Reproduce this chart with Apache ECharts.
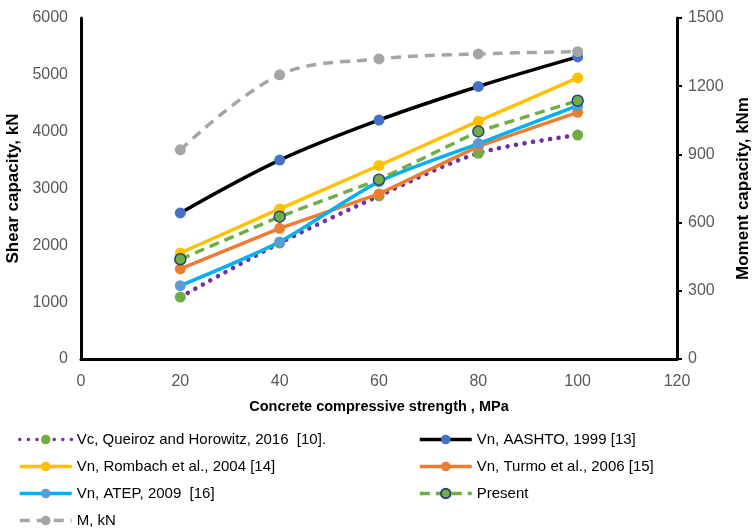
<!DOCTYPE html>
<html>
<head>
<meta charset="utf-8">
<script src="https://cdn.jsdelivr.net/npm/echarts@6/dist/echarts.min.js"></script>
<style>html,body{margin:0;padding:0;background:#fff}#c{width:753px;height:530px}</style>
</head>
<body>
<div id="c"></div>
<script>
const strength = [20, 40, 60, 80, 100];
const vcQueiroz = [1090, 2040, 2870, 3620, 3940];
const vnAashto = [2570, 3500, 4205, 4795, 5315];
const vnRombach = [1865, 2640, 3405, 4185, 4945];
const vnTurmo = [1585, 2300, 2905, 3740, 4340];
const vnAtep = [1290, 2060, 3120, 3790, 4460];
const present = [1755, 2505, 3155, 4005, 4545];
const momentM = [920, 1250, 1320, 1342, 1352];

const xTicks = [0, 20, 40, 60, 80, 100, 120];
const leftTicks = [0, 1000, 2000, 3000, 4000, 5000, 6000];
const rightTicks = [0, 300, 600, 900, 1200, 1500];

const names = {
  vc: 'Vc, Queiroz and Horowitz, 2016  [10].',
  aashto: 'Vn, AASHTO, 1999 [13]',
  rombach: 'Vn, Rombach et al., 2004 [14]',
  turmo: 'Vn, Turmo et al., 2006 [15]',
  atep: 'Vn, ATEP, 2009  [16]',
  present: 'Present',
  m: 'M, kN'
};

const pairs = (ys) => strength.map((x, i) => [x, ys[i]]);
const FONT = '"Liberation Sans", Arial, sans-serif';

function line(name, data, color, markerColor, opts) {
  opts = opts || {};
  return {
    name: name,
    type: 'line',
    data: pairs(data),
    yAxisIndex: opts.yAxisIndex || 0,
    smooth: opts.smooth || false,
    symbol: 'circle',
    symbolSize: 11,
    showSymbol: true,
    lineStyle: { color: color, width: opts.width || 3.5, type: opts.type || 'solid', cap: opts.cap || 'butt' },
    itemStyle: { color: markerColor, borderColor: opts.border || markerColor, borderWidth: opts.border ? 1.5 : 0 },
    emphasis: { disabled: true },
    animation: false
  };
}

const legendText = { fontFamily: FONT, fontSize: 15, color: '#000' };
function legendItem(name, left, rowCenter) {
  return {
    left: left, top: rowCenter - 8, itemWidth: 52, itemHeight: 12, padding: 0,
    textStyle: legendText, selectedMode: false, data: [name],
    lineStyle: { width: 3.5 }
  };
}

const chart = echarts.init(document.getElementById('c'), null, { renderer: 'canvas' });
chart.setOption({
  backgroundColor: '#fff',
  animation: false,
  grid: { left: 81, right: 76, top: 18, bottom: 171, containLabel: false, outerBoundsMode: 'none' },
  xAxis: {
    type: 'value', min: xTicks[0], max: xTicks[xTicks.length - 1], interval: 20,
    name: 'Concrete compressive strength , MPa', nameLocation: 'middle', nameGap: 40,
    nameTextStyle: { fontFamily: FONT, fontSize: 14.5, fontWeight: 'bold', color: '#000' },
    axisLine: { lineStyle: { color: '#000', width: 3 } },
    axisTick: { show: false },
    axisLabel: { fontFamily: FONT, fontSize: 16, color: '#595959', margin: 15, formatter: (v) => String(v) },
    splitLine: { show: false }
  },
  yAxis: [
    {
      type: 'value', min: leftTicks[0], max: leftTicks[leftTicks.length - 1], interval: 1000,
      name: 'Shear capacity, kN', nameLocation: 'middle', nameGap: 56,
      nameTextStyle: { fontFamily: FONT, fontSize: 17, fontWeight: 'bold', color: '#000' },
      axisLine: { show: true, lineStyle: { color: '#000', width: 3 } },
      axisTick: { show: false },
      axisLabel: { fontFamily: FONT, fontSize: 16, color: '#595959', margin: 13, formatter: (v) => String(v) },
      splitLine: { show: false }
    },
    {
      type: 'value', min: rightTicks[0], max: rightTicks[rightTicks.length - 1], interval: 300,
      position: 'right',
      name: 'Moment capacity, kNm', nameLocation: 'middle', nameGap: 58,
      nameTextStyle: { fontFamily: FONT, fontSize: 17, fontWeight: 'bold', color: '#000' },
      axisLine: { show: true, lineStyle: { color: '#000', width: 3 } },
      axisTick: { show: true, inside: false, length: 5, lineStyle: { color: '#000', width: 2 } },
      axisLabel: { fontFamily: FONT, fontSize: 16, color: '#595959', margin: 11, formatter: (v) => String(v) },
      splitLine: { show: false }
    }
  ],
  legend: [
    legendItem(names.vc, 18, 440),
    legendItem(names.rombach, 18, 467),
    legendItem(names.atep, 18, 494),
    legendItem(names.m, 18, 521),
    legendItem(names.aashto, 418, 440),
    legendItem(names.turmo, 418, 467),
    legendItem(names.present, 418, 494)
  ],
  series: [
    line(names.vc, vcQueiroz, '#7030A0', '#70AD47', { type: [0.1, 8.5], cap: 'round', smooth: 0.3, width: 4.5 }),
    line(names.aashto, vnAashto, '#000000', '#4472C4', { smooth: 0.35 }),
    line(names.rombach, vnRombach, '#FFC000', '#FFC000'),
    line(names.turmo, vnTurmo, '#ED7D31', '#ED7D31'),
    line(names.atep, vnAtep, '#00B0F0', '#5B9BD5', { smooth: 0.25 }),
    line(names.present, present, '#70AD47', '#70AD47', { type: [10, 6], border: '#264478' }),
    line(names.m, momentM, '#A5A5A5', '#A5A5A5', { type: [10, 7], smooth: 0.35, yAxisIndex: 1 })
  ]
});
</script>
</body>
</html>
